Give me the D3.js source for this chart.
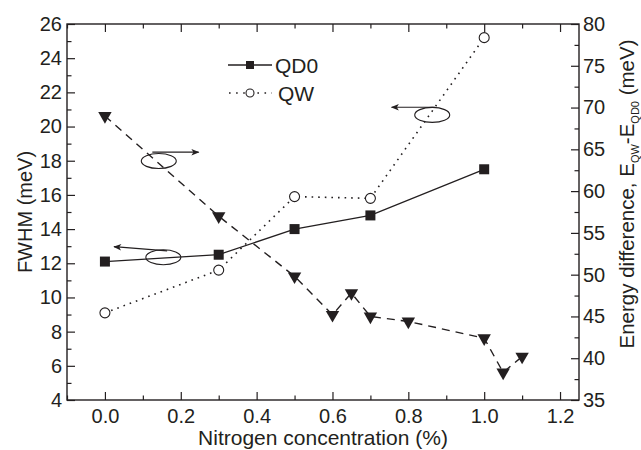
<!DOCTYPE html>
<html><head><meta charset="utf-8">
<script src="https://cdn.jsdelivr.net/npm/d3@7"></script>
<style>
body{margin:0;background:#fff;}
svg text{font-family:"Liberation Sans",Arial,Helvetica,sans-serif;fill:#231f20;}
</style></head><body>
<svg id="chart" width="641" height="450"></svg>
<script>
// Nitrogen concentration (%) and FWHM (meV) of the QD0 and QW peaks
const qdX = [0, 0.3, 0.5, 0.7, 1.0];
const qdFwhm = [12.1, 12.5, 14.0, 14.8, 17.5];
const qwX = [0, 0.3, 0.5, 0.7, 1.0];
const qwFwhm = [9.1, 11.6, 15.9, 15.8, 25.2];
// Energy difference E_QW - E_QD0 (meV), right axis
const diffX = [0, 0.3, 0.5, 0.6, 0.65, 0.7, 0.8, 1.0, 1.05, 1.1];
const diffMeV = [69.0, 57.0, 49.8, 45.2, 47.8, 45.0, 44.4, 42.4, 38.3, 40.2];

const xTicks = [0, 0.2, 0.4, 0.6, 0.8, 1.0, 1.2];
const xMinor = [-0.1, 0.1, 0.3, 0.5, 0.7, 0.9, 1.1];
const leftTicks = [4, 6, 8, 10, 12, 14, 16, 18, 20, 22, 24, 26];
const leftMinor = [5, 7, 9, 11, 13, 15, 17, 19, 21, 23, 25];
const rightTicks = [35, 40, 45, 50, 55, 60, 65, 70, 75, 80];
const rightMinor = [37.5, 42.5, 47.5, 52.5, 57.5, 62.5, 67.5, 72.5, 77.5];

// Ellipse-and-arrow callouts telling which axis a curve belongs to
// (positions in x / FWHM data units)
const callouts = [
  {cx: 0.142, cy: 17.98, x0: 0.125, y0: 18.50, x1: 0.247, y1: 18.50},
  {cx: 0.154, cy: 12.35, x0: 0.164, y0: 12.73, x1: 0.024, y1: 12.97},
  {cx: 0.863, cy: 20.68, x0: 0.870, y0: 21.13, x1: 0.756, y1: 21.13}
];

const ink = "#231f20";
const svg = d3.select("#chart");
const L = 67, R = 579, T = 24, B = 400;

const x = d3.scaleLinear().domain([-0.1, 1.25]).range([L, R]);
const yL = d3.scaleLinear().domain([4, 26]).range([B, T]);
const yR = d3.scaleLinear().domain([35, 80]).range([B, T]);

const defs = svg.append("defs");
defs.append("marker").attr("id", "head")
  .attr("viewBox", "0 0 10 10").attr("refX", 9).attr("refY", 5)
  .attr("markerWidth", 15).attr("markerHeight", 8).attr("markerUnits", "userSpaceOnUse")
  .attr("orient", "auto")
  .append("path").attr("d", "M0,1 L10,5 L0,9 L2.5,5 Z").attr("fill", ink);

const fontTick = 20;

function styleAxis(g) {
  g.select(".domain").remove();
  g.selectAll(".tick line").attr("stroke", ink).attr("stroke-width", 1.2);
  g.selectAll(".tick text").attr("fill", ink).style("font-size", fontTick + "px");
}

// major and minor ticks, all pointing inward
svg.append("g").attr("transform", `translate(0,${B})`)
  .call(d3.axisBottom(x).tickValues(xTicks).tickFormat(d3.format(".1f")).tickSize(-8).tickPadding(9))
  .call(styleAxis);
svg.append("g").attr("transform", `translate(0,${B})`)
  .call(d3.axisBottom(x).tickValues(xMinor).tickFormat("").tickSize(-4.5))
  .call(styleAxis);
svg.append("g").attr("transform", `translate(0,${T})`)
  .call(d3.axisTop(x).tickValues(xTicks).tickFormat("").tickSize(-8))
  .call(styleAxis);
svg.append("g").attr("transform", `translate(0,${T})`)
  .call(d3.axisTop(x).tickValues(xMinor).tickFormat("").tickSize(-4.5))
  .call(styleAxis);
svg.append("g").attr("transform", `translate(${L},0)`)
  .call(d3.axisLeft(yL).tickValues(leftTicks).tickFormat(d3.format("d")).tickSize(-8).tickPadding(5))
  .call(styleAxis);
svg.append("g").attr("transform", `translate(${L},0)`)
  .call(d3.axisLeft(yL).tickValues(leftMinor).tickFormat("").tickSize(-4.5))
  .call(styleAxis);
svg.append("g").attr("transform", `translate(${R},0)`)
  .call(d3.axisRight(yR).tickValues(rightTicks).tickFormat(d3.format("d")).tickSize(-8).tickPadding(4))
  .call(styleAxis);
svg.append("g").attr("transform", `translate(${R},0)`)
  .call(d3.axisRight(yR).tickValues(rightMinor).tickFormat("").tickSize(-4.5))
  .call(styleAxis);

// plot frame
svg.append("rect").attr("x", L).attr("y", T).attr("width", R - L).attr("height", B - T)
  .attr("fill", "none").attr("stroke", ink).attr("stroke-width", 1.4);

// axis titles
svg.append("text").attr("x", x(0.575)).attr("y", 445).attr("text-anchor", "middle")
  .style("font-size", "21px").text("Nitrogen concentration (%)");
svg.append("text").attr("transform", `translate(32,${(T + B) / 2}) rotate(-90)`)
  .attr("text-anchor", "middle").style("font-size", "20px").text("FWHM (meV)");
const rt = svg.append("text").attr("transform", `translate(634,${(T + B) / 2 - 18}) rotate(-90)`)
  .attr("text-anchor", "middle").style("font-size", "20.5px");
rt.append("tspan").text("Energy difference, E");
rt.append("tspan").attr("dy", 5).style("font-size", "11px").text("QW");
rt.append("tspan").attr("dy", -5).text("-E");
rt.append("tspan").attr("dy", 5).style("font-size", "11px").text("QD0");
rt.append("tspan").attr("dy", -5).text(" (meV)");

// series lines
const qd = qdX.map((v, i) => [v, qdFwhm[i]]);
const qw = qwX.map((v, i) => [v, qwFwhm[i]]);
const df = diffX.map((v, i) => [v, diffMeV[i]]);

const lineL = d3.line().x(d => x(d[0])).y(d => yL(d[1]));
const lineR = d3.line().x(d => x(d[0])).y(d => yR(d[1]));

svg.append("path").datum(df).attr("d", lineR).attr("fill", "none")
  .attr("stroke", ink).attr("stroke-width", 1.4).attr("stroke-dasharray", "8,6");
svg.append("path").datum(qw).attr("d", lineL).attr("fill", "none")
  .attr("stroke", ink).attr("stroke-width", 1.6).attr("stroke-dasharray", "1.6,5");
svg.append("path").datum(qd).attr("d", lineL).attr("fill", "none")
  .attr("stroke", ink).attr("stroke-width", 1.3);

// callouts
const co = svg.append("g");
callouts.forEach(c => {
  co.append("ellipse").attr("cx", x(c.cx)).attr("cy", yL(c.cy)).attr("rx", 17.5).attr("ry", 7.5)
    .attr("fill", "none").attr("stroke", ink).attr("stroke-width", 1.1);
  co.append("line").attr("x1", x(c.x0)).attr("y1", yL(c.y0)).attr("x2", x(c.x1)).attr("y2", yL(c.y1))
    .attr("stroke", ink).attr("stroke-width", 1.2).attr("marker-end", "url(#head)");
});

// markers
const tri = d3.symbol().type(d3.symbolTriangle).size(78);
svg.append("g").selectAll("path").data(df).join("path")
  .attr("d", tri).attr("fill", ink)
  .attr("transform", d => `translate(${x(d[0])},${yR(d[1])}) rotate(180)`);
svg.append("g").selectAll("rect").data(qd).join("rect")
  .attr("x", d => x(d[0]) - 5).attr("y", d => yL(d[1]) - 5).attr("width", 10).attr("height", 10)
  .attr("fill", ink);
svg.append("g").selectAll("circle").data(qw).join("circle")
  .attr("cx", d => x(d[0])).attr("cy", d => yL(d[1])).attr("r", 5)
  .attr("fill", "#fff").attr("stroke", ink).attr("stroke-width", 1.1);

// legend
const lg = svg.append("g");
lg.append("line").attr("x1", 228).attr("x2", 272).attr("y1", 65).attr("y2", 65)
  .attr("stroke", ink).attr("stroke-width", 1.3);
lg.append("rect").attr("x", 246).attr("y", 61).attr("width", 8).attr("height", 8).attr("fill", ink);
lg.append("text").attr("x", 275).attr("y", 72.5).style("font-size", "21px").text("QD0");
lg.append("line").attr("x1", 229).attr("x2", 272).attr("y1", 93).attr("y2", 93)
  .attr("stroke", ink).attr("stroke-width", 1.6).attr("stroke-dasharray", "1.6,5.5");
lg.append("circle").attr("cx", 250).attr("cy", 93).attr("r", 4)
  .attr("fill", "#fff").attr("stroke", ink).attr("stroke-width", 1.1);
lg.append("text").attr("x", 278).attr("y", 100.5).style("font-size", "21px").text("QW");
</script>
</body></html>
